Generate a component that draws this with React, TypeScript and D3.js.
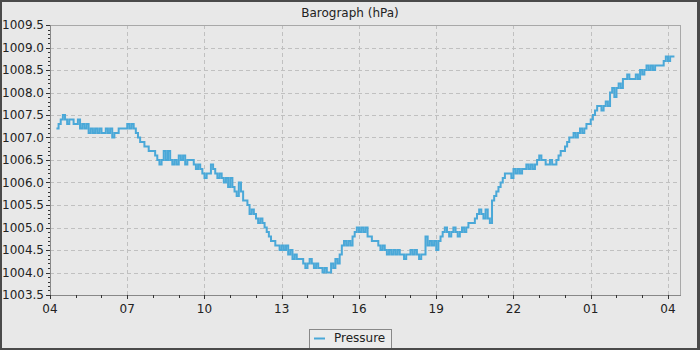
import React, { useRef, useEffect } from 'react';
import * as d3 from 'd3';

// Readings every 5 minutes, starting 04:15
const startTime = new Date(2024, 0, 1, 4, 15);
const intervalMinutes = 5;

const pressure = [
  1007.2, 1007.3, 1007.4, 1007.5, 1007.4, 1007.3, 1007.4, 1007.4, 1007.3, 1007.3, 1007.4, 1007.2,
  1007.3, 1007.2, 1007.3, 1007.1, 1007.2, 1007.1, 1007.2, 1007.1, 1007.2, 1007.1, 1007.1, 1007.2,
  1007.1, 1007.2, 1007.0, 1007.1, 1007.1, 1007.2, 1007.2, 1007.2, 1007.2, 1007.3, 1007.2, 1007.3,
  1007.2, 1007.1, 1007.0, 1006.9, 1006.9, 1006.8, 1006.8, 1006.7, 1006.7, 1006.7, 1006.6, 1006.5,
  1006.4, 1006.5, 1006.7, 1006.5, 1006.7, 1006.5, 1006.4, 1006.5, 1006.4, 1006.6, 1006.5, 1006.6,
  1006.4, 1006.5, 1006.5, 1006.5, 1006.4, 1006.3, 1006.4, 1006.3, 1006.2, 1006.1, 1006.2, 1006.2,
  1006.4, 1006.3, 1006.2, 1006.1, 1006.2, 1006.1, 1006.0, 1006.1, 1005.9, 1006.1, 1005.9, 1005.8,
  1005.7, 1006.0, 1005.8, 1005.6, 1005.6, 1005.5, 1005.3, 1005.4, 1005.3, 1005.2, 1005.1, 1005.2,
  1005.1, 1005.0, 1004.9, 1004.8, 1004.7, 1004.7, 1004.6, 1004.6, 1004.5, 1004.6, 1004.5, 1004.6,
  1004.4, 1004.5, 1004.3, 1004.4, 1004.3, 1004.3, 1004.3, 1004.2, 1004.1, 1004.2, 1004.3, 1004.2,
  1004.1, 1004.2, 1004.1, 1004.1, 1004.0, 1004.1, 1004.0, 1004.0, 1004.2, 1004.1, 1004.3, 1004.2,
  1004.4, 1004.6, 1004.7, 1004.6, 1004.7, 1004.6, 1004.8, 1004.9, 1005.0, 1004.9, 1005.0, 1004.9,
  1005.0, 1004.8, 1004.8, 1004.7, 1004.7, 1004.7, 1004.6, 1004.5, 1004.6, 1004.5, 1004.4, 1004.5,
  1004.4, 1004.5, 1004.4, 1004.5, 1004.4, 1004.4, 1004.3, 1004.4, 1004.4, 1004.5, 1004.4, 1004.5,
  1004.4, 1004.3, 1004.4, 1004.4, 1004.8, 1004.6, 1004.7, 1004.6, 1004.7, 1004.5, 1004.7, 1004.8,
  1004.9, 1005.0, 1004.9, 1004.8, 1004.9, 1005.0, 1004.9, 1004.8, 1004.9, 1005.0, 1004.9, 1005.0,
  1005.1, 1005.1, 1005.1, 1005.2, 1005.3, 1005.4, 1005.3, 1005.2, 1005.4, 1005.2, 1005.1, 1005.6,
  1005.7, 1005.8, 1005.9, 1006.0, 1006.1, 1006.2, 1006.2, 1006.2, 1006.1, 1006.3, 1006.2, 1006.3,
  1006.2, 1006.3, 1006.3, 1006.4, 1006.3, 1006.4, 1006.3, 1006.4, 1006.5, 1006.6, 1006.5, 1006.5,
  1006.4, 1006.4, 1006.5, 1006.4, 1006.4, 1006.5, 1006.6, 1006.7, 1006.7, 1006.8, 1006.9, 1007.0,
  1007.0, 1007.1, 1007.0, 1007.1, 1007.2, 1007.1, 1007.2, 1007.3, 1007.3, 1007.4, 1007.5, 1007.6,
  1007.7, 1007.7, 1007.6, 1007.7, 1007.8, 1007.7, 1008.0, 1008.1, 1007.9, 1008.1, 1008.2, 1008.1,
  1008.3, 1008.3, 1008.4, 1008.3, 1008.3, 1008.3, 1008.4, 1008.3, 1008.5, 1008.4, 1008.5, 1008.6,
  1008.5, 1008.6, 1008.5, 1008.6, 1008.6, 1008.6, 1008.6, 1008.7, 1008.8, 1008.7, 1008.8, 1008.8,
  1008.8,
];

const yTicks = [1003.5, 1004.0, 1004.5, 1005.0, 1005.5, 1006.0, 1006.5, 1007.0, 1007.5, 1008.0, 1008.5, 1009.0, 1009.5];
const xTickLabels = ['04', '07', '10', '13', '16', '19', '22', '01', '04'];

const seriesName = 'Pressure';
const title = 'Barograph (hPa)';

interface Reading {
  time: Date;
  value: number;
}

export default function App() {
  const svgRef = useRef<SVGSVGElement>(null);
  const width = 700;
  const height = 350;
  const margin = { top: 25, right: 20, bottom: 55, left: 50 };
  const innerW = width - margin.left - margin.right;
  const innerH = height - margin.top - margin.bottom;

  useEffect(() => {
    if (!svgRef.current) return;
    const svg = d3.select(svgRef.current);
    svg.selectAll('*').remove();

    const font = '"DejaVu Sans", sans-serif';
    const data: Reading[] = pressure.map((v, i) => ({
      time: d3.timeMinute.offset(startTime, i * intervalMinutes),
      value: v,
    }));

    const domainStart = new Date(2024, 0, 1, 4, 0);
    const domainEnd = new Date(2024, 0, 2, 4, 28);
    const xScale = d3.scaleTime().domain([domainStart, domainEnd]).range([0, innerW]);
    const yScale = d3.scaleLinear().domain([1003.5, 1009.5]).range([innerH, 0]);

    const majorX = xTickLabels.map((_, i) => d3.timeHour.offset(domainStart, i * 3));
    const minorX = d3.timeHour.range(domainStart, d3.timeHour.offset(domainStart, 25));
    const minorY = d3.range(0, 61).map(i => 1003.5 + i * 0.1);

    // frame + background
    svg.append('rect').attr('width', width).attr('height', height).attr('fill', '#4a4a4a');
    svg.append('rect')
      .attr('x', 2).attr('y', 2)
      .attr('width', width - 5).attr('height', height - 4)
      .attr('fill', '#e8e8e8');

    svg.append('text')
      .attr('x', width / 2)
      .attr('y', 16.5)
      .attr('text-anchor', 'middle')
      .attr('font-family', font)
      .attr('font-size', '12px')
      .attr('fill', '#222')
      .text(title);

    const g = svg.append('g').attr('transform', `translate(${margin.left},${margin.top})`);

    g.append('clipPath').attr('id', 'plot-clip')
      .append('rect').attr('width', innerW).attr('height', innerH);

    // grid
    const grid = g.append('g').attr('shape-rendering', 'crispEdges');
    grid.selectAll('.hgrid')
      .data(yTicks.slice(1, -1))
      .enter()
      .append('line')
      .attr('x1', 0).attr('x2', innerW)
      .attr('y1', d => Math.round(yScale(d)) + 0.5)
      .attr('y2', d => Math.round(yScale(d)) + 0.5)
      .attr('stroke', '#c0c0c0')
      .attr('stroke-dasharray', '4,3');
    grid.selectAll('.vgrid')
      .data(majorX.slice(1))
      .enter()
      .append('line')
      .attr('x1', d => Math.round(xScale(d)) + 0.5)
      .attr('x2', d => Math.round(xScale(d)) + 0.5)
      .attr('y1', 0).attr('y2', innerH)
      .attr('stroke', '#c0c0c0')
      .attr('stroke-dasharray', '4,3');

    // plot outline
    g.append('rect')
      .attr('x', 0.5).attr('y', 0.5)
      .attr('width', innerW).attr('height', innerH)
      .attr('fill', 'none')
      .attr('stroke', '#a8a8a8');

    // series
    const line = d3.line<Reading>()
      .x(d => xScale(d.time))
      .y(d => yScale(d.value))
      .curve(d3.curveStepAfter);

    g.append('path')
      .datum(data)
      .attr('clip-path', 'url(#plot-clip)')
      .attr('fill', 'none')
      .attr('stroke', '#4aa8d8')
      .attr('stroke-width', 2)
      .attr('d', line);

    // axes
    const axes = g.append('g').attr('shape-rendering', 'crispEdges');
    axes.append('line')
      .attr('x1', 0.5).attr('x2', 0.5).attr('y1', 0).attr('y2', innerH + 0.5)
      .attr('stroke', '#888');
    axes.append('line')
      .attr('x1', 0).attr('x2', innerW + 0.5).attr('y1', innerH + 0.5).attr('y2', innerH + 0.5)
      .attr('stroke', '#888');

    axes.selectAll('.ymin')
      .data(minorY)
      .enter()
      .append('line')
      .attr('x1', -2).attr('x2', 0)
      .attr('y1', d => Math.round(yScale(d)) + 0.5)
      .attr('y2', d => Math.round(yScale(d)) + 0.5)
      .attr('stroke', '#333');
    axes.selectAll('.ymaj')
      .data(yTicks)
      .enter()
      .append('line')
      .attr('x1', -4).attr('x2', 0)
      .attr('y1', d => Math.round(yScale(d)) + 0.5)
      .attr('y2', d => Math.round(yScale(d)) + 0.5)
      .attr('stroke', '#333');

    axes.selectAll('.xmin')
      .data(minorX)
      .enter()
      .append('line')
      .attr('x1', d => Math.round(xScale(d)) + 0.5)
      .attr('x2', d => Math.round(xScale(d)) + 0.5)
      .attr('y1', innerH).attr('y2', innerH + 3)
      .attr('stroke', '#333');
    axes.selectAll('.xmaj')
      .data(majorX)
      .enter()
      .append('line')
      .attr('x1', d => Math.round(xScale(d)) + 0.5)
      .attr('x2', d => Math.round(xScale(d)) + 0.5)
      .attr('y1', innerH).attr('y2', innerH + 4)
      .attr('stroke', '#333');

    g.selectAll('.ylabel')
      .data(yTicks)
      .enter()
      .append('text')
      .attr('x', -6)
      .attr('y', d => yScale(d) + 4.3)
      .attr('text-anchor', 'end')
      .attr('font-family', font)
      .attr('font-size', '12px')
      .attr('fill', '#222')
      .text(d => d3.format('.1f')(d));

    g.selectAll('.xlabel')
      .data(majorX)
      .enter()
      .append('text')
      .attr('x', d => xScale(d))
      .attr('y', innerH + 18)
      .attr('text-anchor', 'middle')
      .attr('font-family', font)
      .attr('font-size', '12px')
      .attr('fill', '#222')
      .text((_, i) => xTickLabels[i]);

    // legend
    const legend = svg.append('g').attr('transform', 'translate(309,329)');
    legend.append('rect')
      .attr('x', 0.5).attr('y', 0.5)
      .attr('width', 82).attr('height', 22)
      .attr('fill', '#ebebeb')
      .attr('stroke', '#888')
      .attr('shape-rendering', 'crispEdges');
    legend.append('line')
      .attr('x1', 5).attr('x2', 16)
      .attr('y1', 9.5).attr('y2', 9.5)
      .attr('stroke', '#4aa8d8')
      .attr('stroke-width', 2);
    legend.append('text')
      .attr('x', 25)
      .attr('y', 13)
      .attr('font-family', font)
      .attr('font-size', '12px')
      .attr('fill', '#222')
      .text(seriesName);

    // redraw frame on top of the clipped bottom edge
    svg.append('rect')
      .attr('x', 0).attr('y', height - 2)
      .attr('width', width).attr('height', 2)
      .attr('fill', '#4a4a4a');
  }, []);

  return (
    <div style={{ position: 'absolute', left: 0, top: 0, width, height }}>
      <svg ref={svgRef} width={width} height={height} style={{ display: 'block' }} />
    </div>
  );
}
